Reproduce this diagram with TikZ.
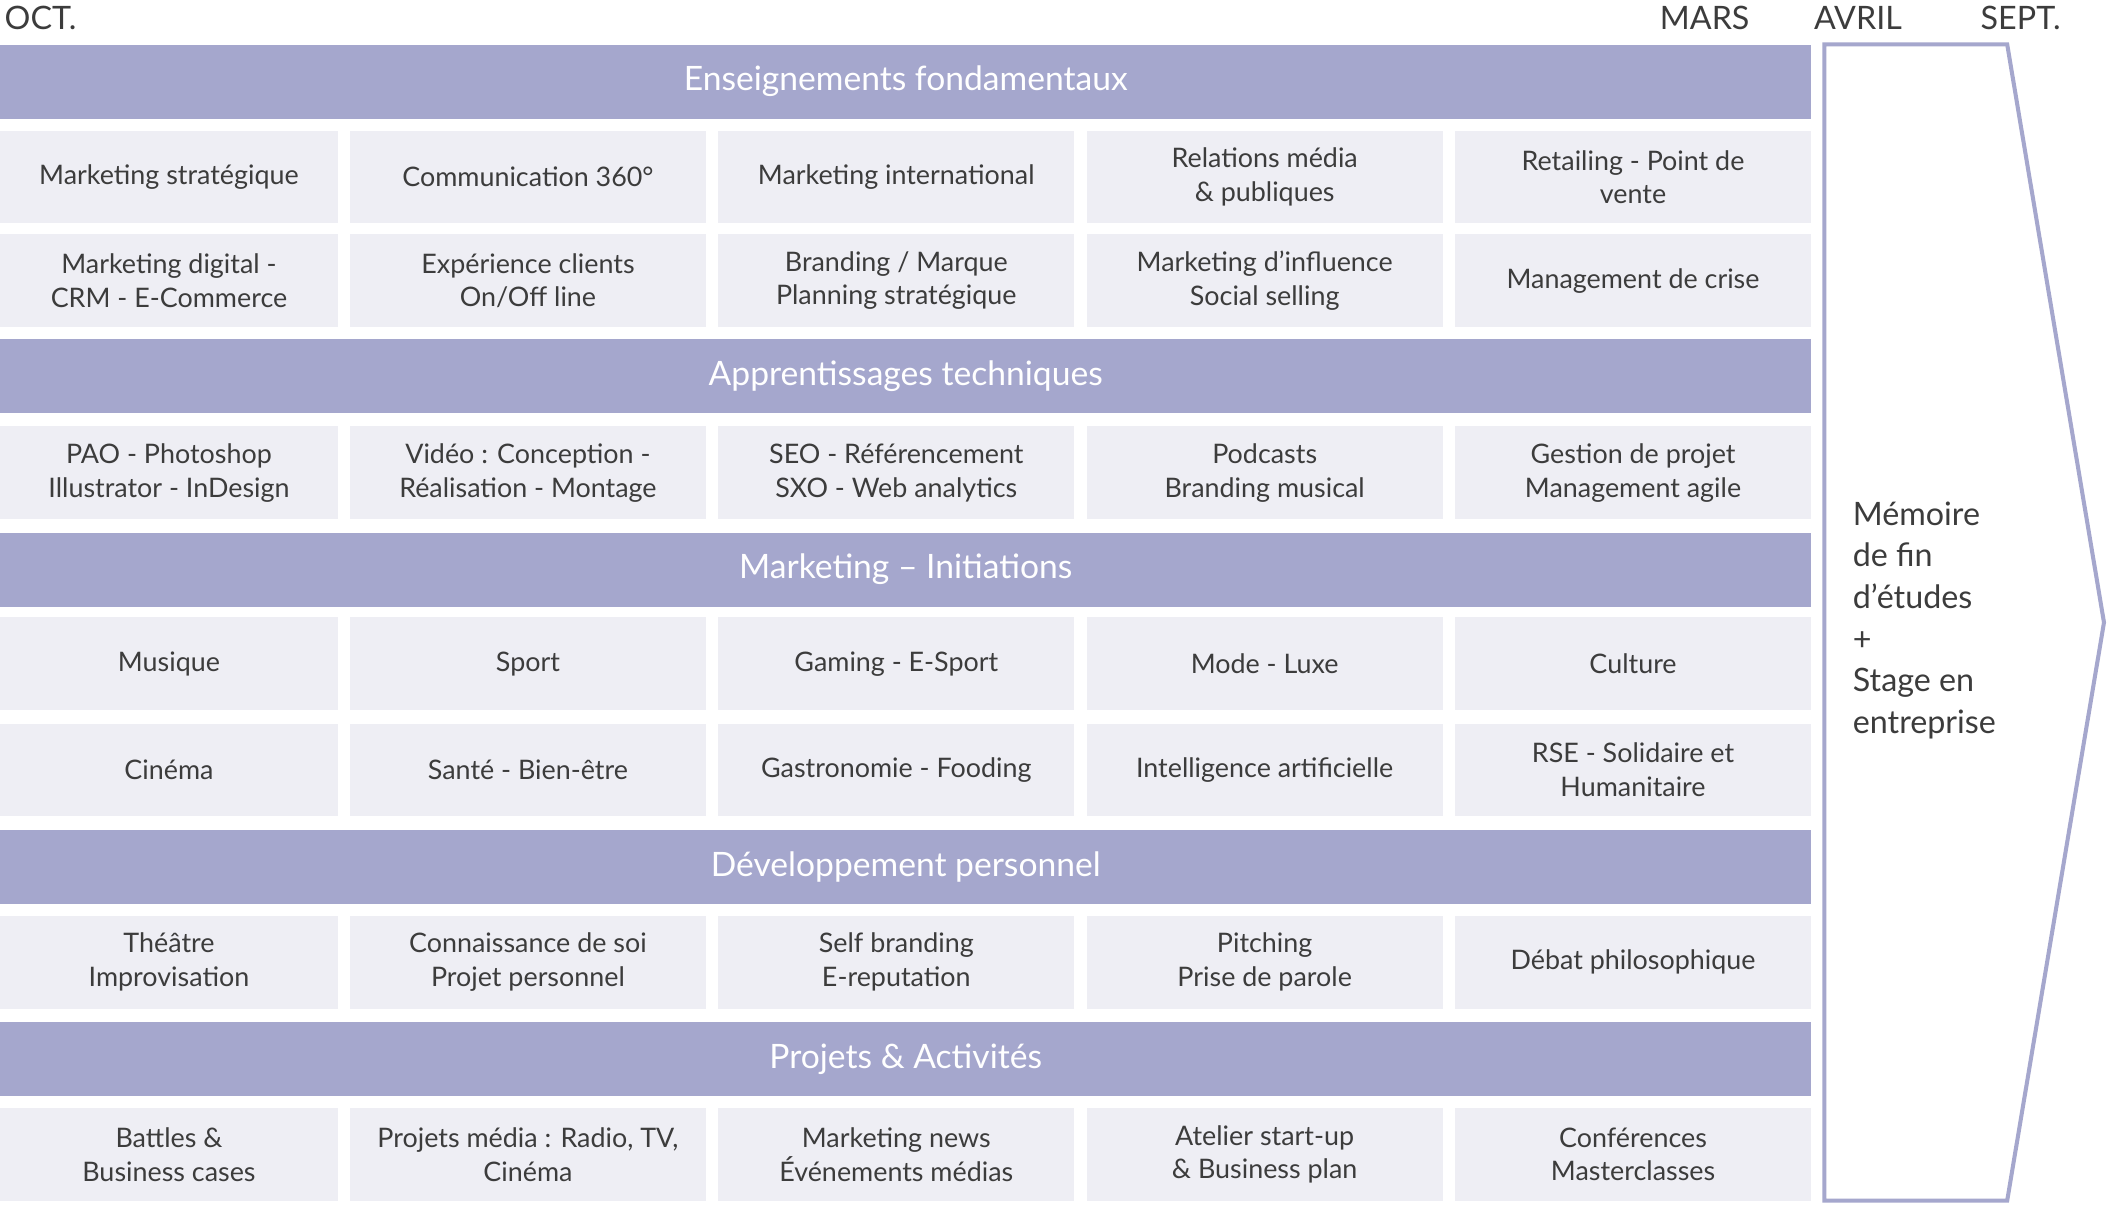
\documentclass[tikz,border=0pt]{standalone}
\usepackage{fontspec}
\setmainfont{Lato}
\definecolor{bar}{HTML}{A5A7CD}
\definecolor{cell}{HTML}{EEEEF4}
\definecolor{txt}{HTML}{3C3C3C}
\begin{document}
\begin{tikzpicture}[x=1pt,y=-1pt,
  barbox/.style={fill=bar,draw=none,minimum width=1347pt,minimum height=55pt,anchor=north west,text=white,font=\fontsize{25}{30}\selectfont,inner sep=0pt},
  cellbox/.style={fill=cell,draw=none,anchor=north west,minimum height=69pt,text=txt,font=\fontsize{20}{25}\selectfont,align=center,inner sep=0pt},
  toplab/.style={anchor=base,text=txt,font=\fontsize{24}{28}\selectfont}]
\useasboundingbox[fill=white] (0,0) rectangle (1568,896);
\node[toplab,anchor=base west] (oct) at (0,22) {OCT.};
\node[toplab] (mars) at (1268,22) {MARS};
\node[toplab] (avril) at (1382,22) {AVRIL};
\node[toplab] (sept) at (1503,22) {SEPT.};
\def\xs{{0,260,534,808,1082}}
\def\ws{{251,265,265,265,265}}
\newcommand{\rowcells}[6]{%
  \foreach \t [count=\i from 0] in {#2} {%
    \pgfmathsetmacro{\xx}{\xs[\i]}\pgfmathsetmacro{\ww}{\ws[\i]}%
    \node[cellbox,minimum width=\ww pt] (c#1\i) at (\xx,#1) {\t};}}
\node[barbox] (b1) at (0,33) {Enseignements fondamentaux};
\rowcells{97}{{Marketing stratégique},{Communication 360°},{Marketing international},{Relations média\\\& publiques},{Retailing - Point de\\vente}}{}{}{}{}
\rowcells{174}{{Marketing digital -\\CRM - E-Commerce},{Expérience clients\\On/Off line},{Branding / Marque\\Planning stratégique},{Marketing d’influence\\Social selling},{Management de crise}}{}{}{}{}
\node[barbox] (b2) at (0,252) {Apprentissages techniques};
\rowcells{317}{{PAO - Photoshop\\Illustrator - InDesign},{Vidéo : Conception -\\Réalisation - Montage},{SEO - Référencement\\SXO - Web analytics},{Podcasts\\Branding musical},{Gestion de projet\\Management agile}}{}{}{}{}
\node[barbox] (b3) at (0,396) {Marketing – Initiations};
\rowcells{459}{{Musique},{Sport},{Gaming - E-Sport},{Mode - Luxe},{Culture}}{}{}{}{}
\rowcells{538}{{Cinéma},{Santé - Bien-être},{Gastronomie - Fooding},{Intelligence artificielle},{RSE - Solidaire et\\Humanitaire}}{}{}{}{}
\node[barbox] (b4) at (0,617) {Développement personnel};
\rowcells{681}{{Théâtre\\Improvisation},{Connaissance de soi\\Projet personnel},{Self branding\\E-reputation},{Pitching\\Prise de parole},{Débat philosophique}}{}{}{}{}
\node[barbox] (b5) at (0,760) {Projets \& Activités};
\rowcells{824}{{Battles \&\\Business cases},{Projets média : Radio, TV,\\Cinéma},{Marketing news\\Événements médias},{Atelier start-up\\\& Business plan},{Conférences\\Masterclasses}}{}{}{}{}
\draw[bar,line width=3pt,line join=miter] (1357,33) -- (1493,33) -- (1565,463) -- (1493,893) -- (1357,893) -- cycle;
\node[anchor=north west,align=left,text=txt,font=\fontsize{24}{31}\selectfont,inner sep=0pt] (mem) at (1378,373) {Mémoire\\de fin\\d’études\\+\\Stage en\\entreprise};
\end{tikzpicture}
\end{document}
